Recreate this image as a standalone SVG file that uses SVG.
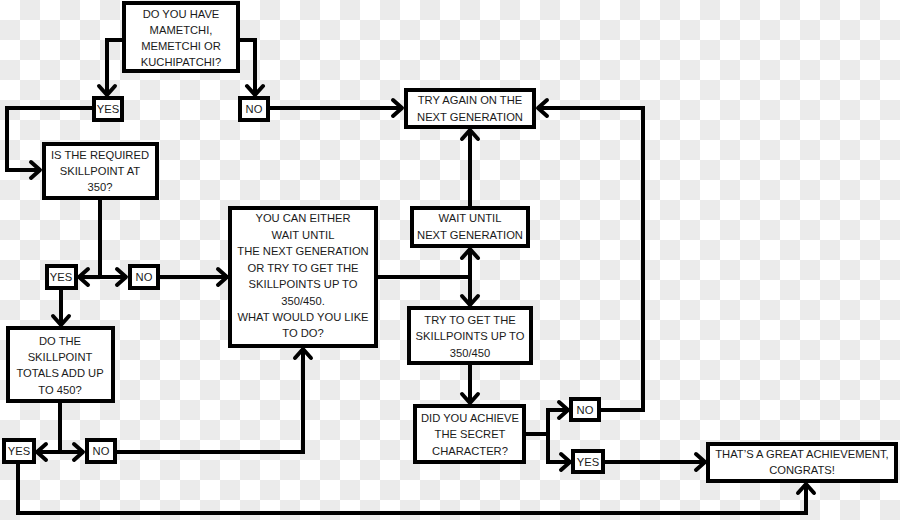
<svg xmlns="http://www.w3.org/2000/svg" width="900" height="520" viewBox="0 0 900 520">
<defs>
<pattern id="checker" x="0" y="0" width="40" height="40" patternUnits="userSpaceOnUse">
<rect x="0" y="0" width="40" height="40" fill="#ffffff"/>
<rect x="20" y="0" width="20" height="20" fill="#ebebeb"/>
<rect x="0" y="20" width="20" height="20" fill="#ebebeb"/>
</pattern>
<marker id="arr" viewBox="-14 -12 18 24" markerWidth="18" markerHeight="24" refX="0" refY="0" markerUnits="userSpaceOnUse" orient="auto" overflow="visible">
<path d="M-9,-8 L0,0 L-9,8" fill="none" stroke="#000" stroke-width="4" stroke-linecap="round" stroke-linejoin="round"/>
</marker>
</defs>
<style>
.box{fill:#fff;stroke:#000;stroke-width:4}
.t{font-family:"Liberation Sans",Arial,sans-serif;font-size:11.2px;fill:#1a1a1a;text-anchor:middle}
.c{fill:none;stroke:#000;stroke-width:4;stroke-linejoin:miter}
.a{marker-end:url(#arr)}
</style>
<rect x="0" y="0" width="900" height="520" fill="url(#checker)"/>

<g id="connectors">
<path class="c a" d="M122,40 H107 V95"/>
<path class="c a" d="M240,40 H255 V95"/>
<path class="c a" d="M92,108 H7 V170 H40"/>
<path class="c a" d="M268,108 H402"/>
<path class="c" d="M100,199 V277"/>
<path class="c a" d="M100,277 H79"/>
<path class="c a" d="M100,277 H126"/>
<path class="c a" d="M158,277 H227"/>
<path class="c a" d="M61,289 V325"/>
<path class="c" d="M60,402 V452"/>
<path class="c a" d="M60,452 H37"/>
<path class="c a" d="M60,452 H83"/>
<path class="c a" d="M116,452 H303 V349"/>
<path class="c a" d="M18,463 V513 H806 V484"/>
<path class="c" d="M377,277 H470"/>
<path class="c a" d="M470,277 V249"/>
<path class="c a" d="M470,277 V305"/>
<path class="c a" d="M470,207 V130"/>
<path class="c a" d="M470,364 V403"/>
<path class="c" d="M525,434 H548"/>
<path class="c a" d="M548,434 V410 H568"/>
<path class="c a" d="M548,434 V462 H570"/>
<path class="c a" d="M600,410 H643 V108 H538"/>
<path class="c a" d="M604,462 H705"/>
</g>

<g id="q-have">
<rect class="box" x="124" y="3" width="114" height="68"/>
<text class="t" x="181" y="18">DO YOU HAVE</text>
<text class="t" x="181" y="34">MAMETCHI,</text>
<text class="t" x="181" y="50">MEMETCHI OR</text>
<text class="t" x="181" y="66">KUCHIPATCHI?</text>
</g>
<g id="yes1">
<rect class="box" x="94" y="98" width="28" height="22"/>
<text class="t" x="108" y="113">YES</text>
</g>
<g id="no1">
<rect class="box" x="240" y="98" width="28" height="22"/>
<text class="t" x="254" y="113">NO</text>
</g>
<g id="try-again">
<rect class="box" x="406" y="90" width="128" height="37"/>
<text class="t" x="470" y="104">TRY AGAIN ON THE</text>
<text class="t" x="470" y="121">NEXT GENERATION</text>
</g>
<g id="q-350">
<rect class="box" x="44" y="144" width="113" height="54"/>
<text class="t" x="100" y="159">IS THE REQUIRED</text>
<text class="t" x="100" y="175">SKILLPOINT AT</text>
<text class="t" x="100" y="191">350?</text>
</g>
<g id="yes2">
<rect class="box" x="47" y="266" width="29" height="22"/>
<text class="t" x="61" y="281">YES</text>
</g>
<g id="no2">
<rect class="box" x="130" y="266" width="28" height="22"/>
<text class="t" x="144" y="281">NO</text>
</g>
<g id="either">
<rect class="box" x="230" y="208" width="146" height="138"/>
<text class="t" x="303" y="222">YOU CAN EITHER</text>
<text class="t" x="303" y="239">WAIT UNTIL</text>
<text class="t" x="303" y="255">THE NEXT GENERATION</text>
<text class="t" x="303" y="272">OR TRY TO GET THE</text>
<text class="t" x="303" y="288">SKILLPOINTS UP TO</text>
<text class="t" x="303" y="305">350/450.</text>
<text class="t" x="303" y="321">WHAT WOULD YOU LIKE</text>
<text class="t" x="303" y="337">TO DO?</text>
</g>
<g id="q-450">
<rect class="box" x="8" y="328" width="105" height="73"/>
<text class="t" x="60" y="345">DO THE</text>
<text class="t" x="60" y="361">SKILLPOINT</text>
<text class="t" x="60" y="377">TOTALS ADD UP</text>
<text class="t" x="60" y="394">TO 450?</text>
</g>
<g id="yes3">
<rect class="box" x="4" y="440" width="30" height="22"/>
<text class="t" x="19" y="455">YES</text>
</g>
<g id="no3">
<rect class="box" x="87" y="440" width="28" height="22"/>
<text class="t" x="101" y="455">NO</text>
</g>
<g id="wait">
<rect class="box" x="412" y="208" width="116" height="38"/>
<text class="t" x="470" y="222">WAIT UNTIL</text>
<text class="t" x="470" y="239">NEXT GENERATION</text>
</g>
<g id="try-get">
<rect class="box" x="409" y="308" width="122" height="55"/>
<text class="t" x="470" y="324">TRY TO GET THE</text>
<text class="t" x="470" y="340">SKILLPOINTS UP TO</text>
<text class="t" x="470" y="357">350/450</text>
</g>
<g id="q-secret">
<rect class="box" x="415" y="406" width="109" height="56"/>
<text class="t" x="470" y="422">DID YOU ACHIEVE</text>
<text class="t" x="470" y="438">THE SECRET</text>
<text class="t" x="470" y="455">CHARACTER?</text>
</g>
<g id="no4">
<rect class="box" x="571" y="399" width="28" height="21"/>
<text class="t" x="585" y="414">NO</text>
</g>
<g id="yes4">
<rect class="box" x="573" y="451" width="30" height="21"/>
<text class="t" x="588" y="466">YES</text>
</g>
<g id="congrats">
<rect class="box" x="708" y="444" width="188" height="37"/>
<text class="t" x="802" y="458">THAT’S A GREAT ACHIEVEMENT,</text>
<text class="t" x="802" y="474">CONGRATS!</text>
</g>
</svg>
